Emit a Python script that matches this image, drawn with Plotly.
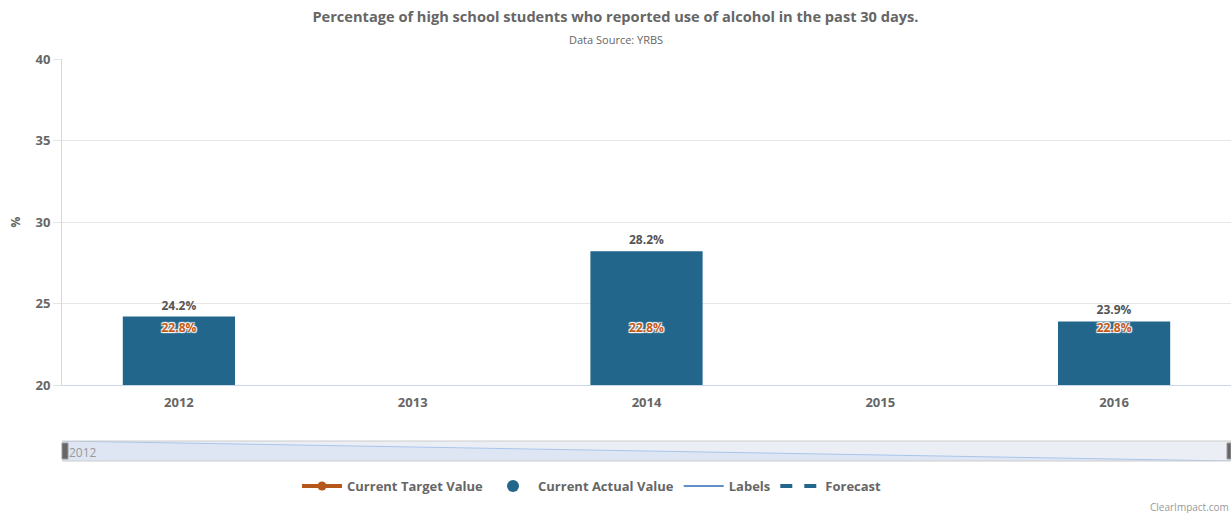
import plotly.graph_objects as go

categories = ["2012", "2013", "2014", "2015", "2016"]
actual_values = [24.2, None, 28.2, None, 23.9]
target_values = [22.8, None, 22.8, None, 22.8]
nav_x = ["2012", "2016"]
nav_values = [24.2, 23.9]
y_ticks = [20, 25, 30, 35, 40]

FONT = "Open Sans"
GRAY = "#666666"
BAR = "#22668c"
ORANGE = "#c45a16"

W, H = 1231, 513
L, T, B = 62, 59, 52
ph = H - T - B  # plot height in px


def py(ypx):
    return (H - B - ypx) / ph


def px(xpx):
    return (xpx - L) / (W - L)


fig = go.Figure()

# Bars (actual values)
fig.add_trace(go.Bar(
    x=categories, y=actual_values,
    marker=dict(color=BAR, line=dict(width=0)),
    width=0.48,
    text=[f"{v}%" if v is not None else "" for v in actual_values],
    textposition="outside",
    textfont=dict(family=FONT, size=12, color="#555555", weight="bold"),
    cliponaxis=False,
    showlegend=False,
    hoverinfo="skip",
))

# Target value labels
fig.add_trace(go.Scatter(
    x=categories, y=target_values,
    mode="markers+text",
    marker=dict(size=5, color="rgba(0,0,0,0)"),
    text=[f"{v}%" if v is not None else "" for v in target_values],
    textposition="top center",
    textfont=dict(family=FONT, size=12, color=ORANGE, weight="bold",
                  shadow="1px 1px 1px #fff, -1px -1px 1px #fff, 1px -1px 1px #fff, -1px 1px 1px #fff"),
    cliponaxis=False,
    showlegend=False,
    hoverinfo="skip",
))

# Legend entries
fig.add_trace(go.Scatter(x=[None], y=[None], mode="lines+markers", name="Current Target Value",
                         line=dict(color="#b5561b", width=4), marker=dict(size=9, color="#b5561b")))
fig.add_trace(go.Scatter(x=[None], y=[None], mode="markers", name="Current Actual Value",
                         marker=dict(size=12, color=BAR)))
fig.add_trace(go.Scatter(x=[None], y=[None], mode="lines", name="Labels",
                         line=dict(color="#2f6bb3", width=1.5)))
fig.add_trace(go.Scatter(x=[None], y=[None], mode="lines", name="Forecast",
                         line=dict(color=BAR, width=4, dash="dash")))

# Navigator series
fig.add_trace(go.Scatter(
    x=nav_x, y=nav_values, xaxis="x2", yaxis="y2",
    mode="lines", line=dict(color="#a9c5ec", width=1),
    fill="tozeroy", fillcolor="rgba(200,215,240,0.35)",
    showlegend=False, hoverinfo="skip",
))

main_bottom = py(385)
nav_top = py(441)

fig.update_layout(
    width=W, height=H,
    margin=dict(l=L, r=0, t=T, b=B),
    paper_bgcolor="white",
    plot_bgcolor="white",
    font=dict(family=FONT, color=GRAY),
    bargap=0.52,
    title=dict(
        text="Percentage of high school students who reported use of alcohol in the past 30 days.",
        x=0.5, xref="container", xanchor="center",
        y=1 - 17 / H, yref="container", yanchor="middle",
        font=dict(family=FONT, size=14.6, color=GRAY, weight="bold"),
    ),
    xaxis=dict(
        type="category", categoryorder="array", categoryarray=categories,
        range=[-0.5, 4.5], domain=[0, 1],
        anchor="y",
        showgrid=False, showline=True, linecolor="#ccd6eb", linewidth=1,
        ticks="", ticklabelstandoff=5,
        tickfont=dict(family=FONT, size=13, color=GRAY, weight="bold"),
        fixedrange=True,
    ),
    yaxis=dict(
        domain=[main_bottom, 1],
        range=[20, 40], tickvals=y_ticks,
        showgrid=True, gridcolor="#e6e6e6", gridwidth=1,
        showline=True, linecolor="#d8d8d8", linewidth=1,
        ticks="outside", ticklen=8, tickcolor="#e6e6e6",
        tickfont=dict(family=FONT, size=13, color=GRAY, weight="bold"),
        title=dict(text="%", font=dict(family=FONT, size=12, color=GRAY, weight="bold"), standoff=12),
        zeroline=False,
    ),
    xaxis2=dict(
        domain=[0, 1], anchor="y2", type="category",
        categoryorder="array", categoryarray=categories,
        range=[0, 4],
        showgrid=False, showticklabels=False, showline=False, zeroline=False,
    ),
    yaxis2=dict(
        domain=[0, nav_top], anchor="x2",
        range=[min(nav_values), max(nav_values)],
        showgrid=False, showticklabels=False, showline=False, zeroline=False,
    ),
    legend=dict(
        orientation="h", x=px(592), xanchor="center", y=py(486), yanchor="middle",
        font=dict(family=FONT, size=13, color=GRAY, weight="bold"),
        itemwidth=40, tracegroupgap=0,
    ),
    shapes=[
        dict(type="rect", xref="paper", yref="paper", x0=0, x1=1, y0=0, y1=nav_top,
             fillcolor="#ebeff5", line=dict(width=0), layer="below"),
        dict(type="line", xref="paper", yref="paper", x0=0, x1=1, y0=nav_top, y1=nav_top,
             line=dict(color="#cccccc", width=1)),
        dict(type="line", xref="paper", yref="paper", x0=0, x1=1, y0=0, y1=0,
             line=dict(color="#cccccc", width=1)),
        dict(type="rect", xref="paper", yref="paper", x0=0, x1=px(68), y0=0.005, y1=nav_top - 0.005,
             fillcolor="#666666", line=dict(color="#999999", width=1)),
        dict(type="rect", xref="paper", yref="paper", x0=px(1227), x1=1, y0=0.005, y1=nav_top - 0.005,
             fillcolor="#666666", line=dict(color="#999999", width=1)),
    ],
    annotations=[
        dict(text="Data Source: YRBS", xref="paper", yref="paper", x=px(615.5), y=py(39),
             xanchor="center", yanchor="middle", showarrow=False,
             font=dict(family=FONT, size=11, color=GRAY)),
        dict(text="2012", xref="paper", yref="paper", x=px(67), y=py(452),
             xanchor="left", yanchor="middle", showarrow=False,
             font=dict(family=FONT, size=12, color="#999999")),
        dict(text="ClearImpact.com", xref="paper", yref="paper", x=1, y=py(507),
             xanchor="right", yanchor="middle", showarrow=False,
             font=dict(family=FONT, size=10, color="#999999")),
    ],
)

fig.write_html(
    "out.html",
    config={"displayModeBar": False},
    post_script="document.body.style.margin='0';document.body.style.overflow='hidden';",
)
